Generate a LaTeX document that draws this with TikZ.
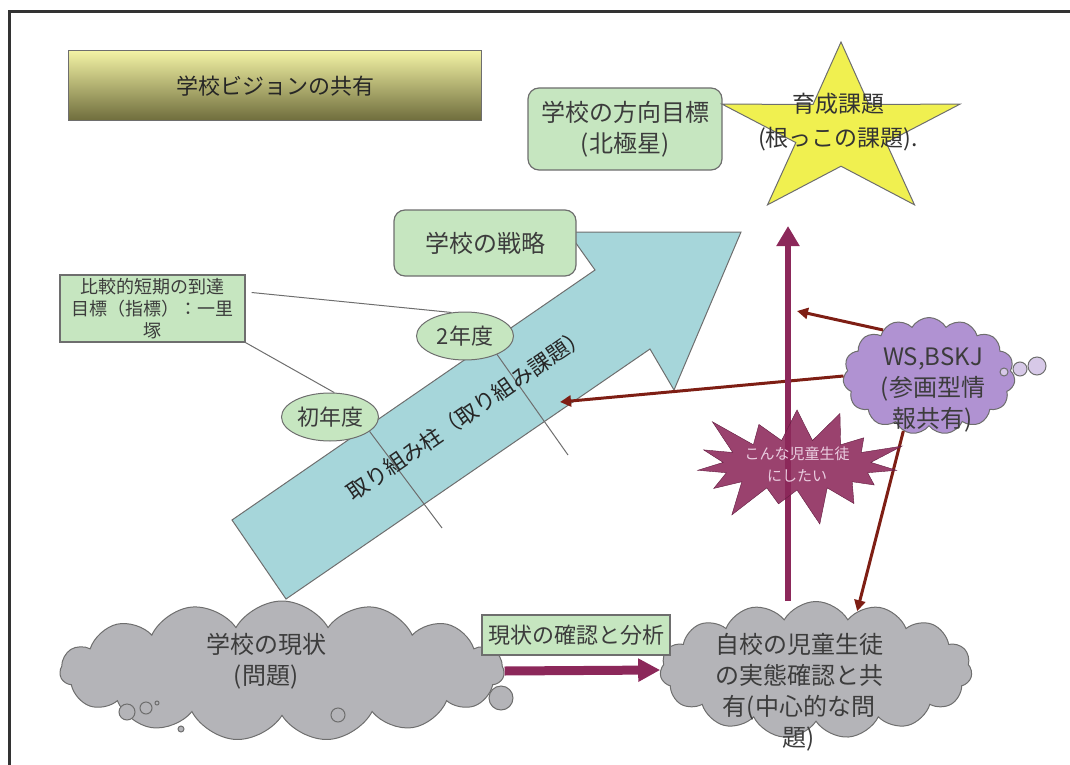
\documentclass[tikz,border=0pt]{standalone}
\usepackage{fontspec}
\setmainfont{Noto Sans CJK JP}
\usetikzlibrary{arrows.meta,shapes,positioning,calc}

\definecolor{boxgreen}{HTML}{C6E6C0}
\definecolor{edgegray}{HTML}{6E6E6E}
\definecolor{textgray}{HTML}{3C3C3C}
\definecolor{arrowcyan}{HTML}{A6D6DA}
\definecolor{staryellow}{HTML}{F0F050}
\definecolor{plum}{HTML}{8C285A}
\definecolor{rust}{HTML}{7E1E14}
\definecolor{lavender}{HTML}{B092D2}
\definecolor{cloudgray}{HTML}{B4B4B8}
\definecolor{titletop}{HTML}{F2F2A4}
\definecolor{titlebot}{HTML}{6E6C3C}
\definecolor{burstink}{HTML}{EACDE0}

\tikzset{
  bigfont/.style={font=\fontsize{24}{31}\selectfont},
  greenbox/.style={rectangle, fill=boxgreen, draw=edgegray, line width=1.2pt, text=textgray, align=center, inner sep=0pt},
  roundbox/.style={greenbox, rounded corners=11pt},
  yearoval/.style={ellipse, fill=boxgreen, draw=edgegray, line width=1pt, text=textgray, minimum width=97pt, minimum height=48pt, inner sep=0pt, font=\fontsize{22}{26}\selectfont},
  puffcloud/.style={cloud, cloud puffs=15, cloud puff arc=120, cloud ignores aspect, draw=edgegray, line width=1pt, inner sep=0pt},
  thinline/.style={edgegray, line width=1pt},
  link/.style={rust, line width=3pt, -{Triangle[width=11pt,length=11pt]}},
  plumarrow/.style={plum, line width=6pt, -{Triangle[width=22pt,length=20pt]}},
}

\begin{document}
\begin{tikzpicture}[x=1pt,y=-1pt]
  \useasboundingbox (0,0) rectangle (1070,765);

  % frame
  \draw[line width=3pt, black!80] (9,765) -- (9,12) -- (1070,12);

  % title
  \node[rectangle, top color=titletop, bottom color=titlebot, draw=edgegray, line width=1pt,
        minimum width=413pt, minimum height=70pt, text=black!85,
        font=\fontsize{22}{26}\selectfont] (title) at (275,86) {学校ビジョンの共有};

  % big arrow (pillar)
  \draw[fill=arrowcyan, draw=edgegray, line width=1pt]
    (232,520) -- (286,599) -- (650,349) -- (674,390) -- (741,232) -- (568,232) -- (595,270) -- cycle;

  % milestone box and ovals
  \node[greenbox, minimum width=185pt, minimum height=67pt, font=\fontsize{18}{22}\selectfont]
    (milestone) at (152.5,308.5) {比較的短期の到達\\目標（指標）：一里\\塚};
  \node[yearoval] (year1) at (330,417) {初年度};
  \node[yearoval] (year2) at (465,336) {2年度};
  \coordinate (m1) at (442,528);
  \coordinate (m2) at (568,455);
  \draw[thinline] ([xshift=6pt,yshift=16pt]milestone.east) -- (year2.120);
  \draw[thinline] (milestone.south east) -- (year1.80);
  \draw[thinline] (year1.-20) -- (m1);
  \draw[thinline] (year2.-30) -- (m2);

  \node[rotate=34.5, text=black!85, font=\fontsize{22}{26}\selectfont] (pillar) at (467,414)
    {取り組み柱（取り組み課題）};

  % strategy and direction
  \node[roundbox, bigfont, minimum width=182pt, minimum height=66pt] (strategy) at (485,243) {学校の戦略};
  \node[roundbox, bigfont, minimum width=194pt, minimum height=82pt] (northstar) at (625,129)
    {学校の方向目標\\(北極星)};

  % star
  \draw[fill=staryellow, draw=edgegray, line width=1pt] (841,42)
    \foreach \a/\r in {126/0.38,162/1,198/0.38,234/1,270/0.38,306/1,342/0.38,18/1,54/0.38}
      { -- ({841+125*\r*cos(\a)}, {132-90*\r*sin(\a)}) } -- cycle;
  \node[align=center, text=black!80, font=\fontsize{23}{34}\selectfont] (rootissue) at (838,122)
    {育成課題\\(根っこの課題).};

  % clouds
  \node[puffcloud, fill=cloudgray, minimum width=444pt, minimum height=140pt] (nowcloud) at (282,671) {};
  \node[align=center, text=textgray, bigfont] (nowtext) at (266,661) {学校の現状\\(問題)};
  \foreach \cx/\cy/\cr in {127/712/8, 146/708/6, 157/703/2, 181/729/3, 338/715/7, 501/698/12}
    \draw[fill=cloudgray, draw=edgegray, line width=1pt] (\cx,\cy) circle[radius=\cr pt];

  \node[puffcloud, fill=cloudgray, minimum width=312pt, minimum height=137pt] (selfcloud) at (816,670) {};
  \node[align=center, text=textgray, bigfont] (selftext) at (799,692)
    {自校の児童生徒\\の実態確認と共\\有(中心的な問\\題)};

  \node[puffcloud, fill=lavender, minimum width=172pt, minimum height=117pt] (wscloud) at (929,376) {};
  \node[align=center, text=textgray, bigfont] (wstext) at (933,390) {WS,BSKJ\\(参画型情\\報共有)};
  \foreach \cx/\cy/\cr in {1004/372/4, 1020/369/7, 1037/366/9}
    \draw[fill=lavender!50, draw=edgegray, line width=1pt] (\cx,\cy) circle[radius=\cr pt];

  % analysis
  \node[greenbox, minimum width=188pt, minimum height=40pt, font=\fontsize{22}{26}\selectfont]
    (analysis) at (576,635) {現状の確認と分析};

  % connectors
  \coordinate (toline) at (797,311);
  \coordinate (toarrow) at (560,402);
  \coordinate (vtip) at (788,226);
  \draw[link] (wscloud.135) -- (toline);
  \draw[link] (wscloud.180) -- (toarrow);
  \draw[link] (wscloud.-115) -- (selfcloud.55);
  \draw[plumarrow] (vtip |- selfcloud.north) -- (vtip);
  \draw[plum, line width=9pt, -{Triangle[width=22pt,length=22pt]}] (nowcloud.east) -- (selfcloud.west);

  % burst
  \node[starburst, starburst points=15, starburst point height=42pt, fill=plum, fill opacity=0.88,
        draw=plum!70!black, text opacity=1,
        minimum width=212pt, minimum height=112pt, inner sep=0pt, align=center, text=burstink,
        font=\fontsize{15}{22}\selectfont] (burst) at (797,465) {こんな児童生徒\\にしたい};
\end{tikzpicture}
\end{document}
